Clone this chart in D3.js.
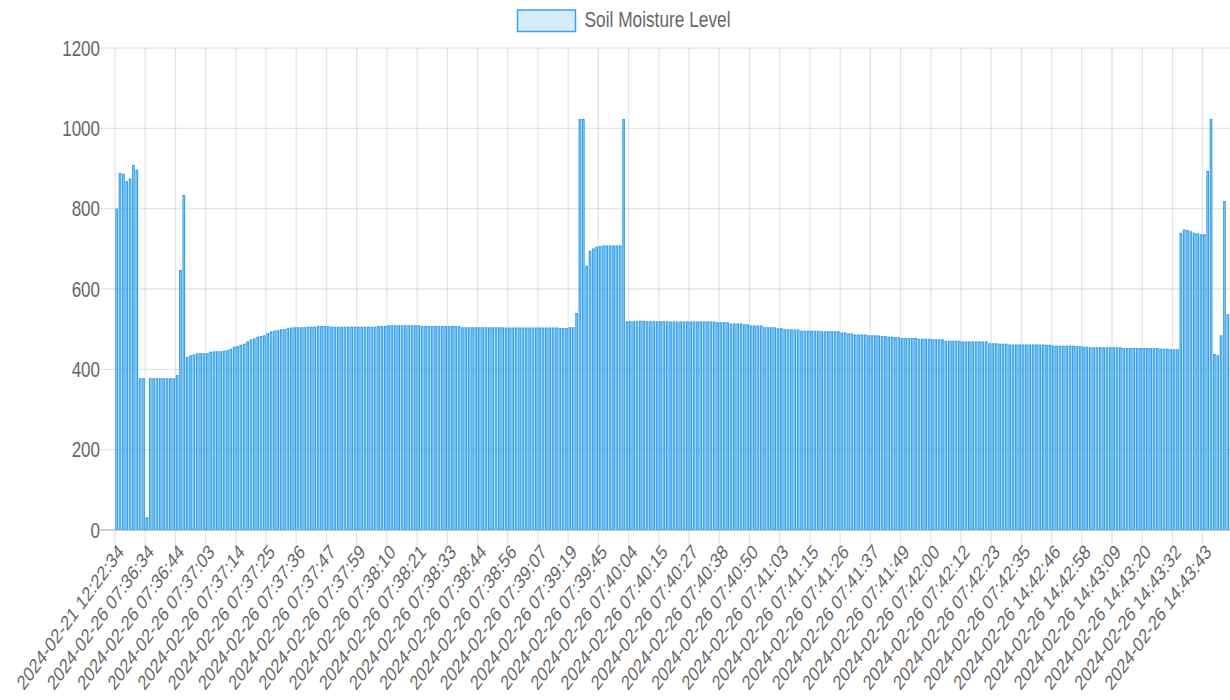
<!DOCTYPE html>
<html>
<head>
<meta charset="utf-8">
<script src="https://cdn.jsdelivr.net/npm/d3@7"></script>
<style>
  html, body { margin: 0; padding: 0; background: #fff; }
  svg { display: block; font-family: 'Liberation Sans', Arial, Helvetica, sans-serif; }
</style>
</head>
<body>
<svg width="1230" height="700"></svg>
<script>
const seriesName = 'Soil Moisture Level'

// labels that are shown on the x axis (every 9th reading)
const tickLabels = [
  '2024-02-21 12:22:34', '2024-02-26 07:36:34', '2024-02-26 07:36:44', '2024-02-26 07:37:03',
  '2024-02-26 07:37:14', '2024-02-26 07:37:25', '2024-02-26 07:37:36', '2024-02-26 07:37:47',
  '2024-02-26 07:37:59', '2024-02-26 07:38:10', '2024-02-26 07:38:21', '2024-02-26 07:38:33',
  '2024-02-26 07:38:44', '2024-02-26 07:38:56', '2024-02-26 07:39:07', '2024-02-26 07:39:19',
  '2024-02-26 07:39:45', '2024-02-26 07:40:04', '2024-02-26 07:40:15', '2024-02-26 07:40:27',
  '2024-02-26 07:40:38', '2024-02-26 07:40:50', '2024-02-26 07:41:03', '2024-02-26 07:41:15',
  '2024-02-26 07:41:26', '2024-02-26 07:41:37', '2024-02-26 07:41:49', '2024-02-26 07:42:00',
  '2024-02-26 07:42:12', '2024-02-26 07:42:23', '2024-02-26 07:42:35', '2024-02-26 14:42:46',
  '2024-02-26 14:42:58', '2024-02-26 14:43:09', '2024-02-26 14:43:20', '2024-02-26 14:43:32',
  '2024-02-26 14:43:43'
]
const tickEvery = 9

// one reading per bar
const moisture = [
  800, 889, 887, 869, 875, 909, 897, 378, 378, 32,
  378, 378, 378, 378, 378, 378, 378, 378, 386, 647, 834,
  431, 435, 437, 440, 440, 440, 440, 444, 445, 445,
  445, 447, 448, 451, 456, 458, 461, 464, 469, 474,
  477, 481, 483, 485, 490, 494, 496, 498, 500, 500,
  502, 504, 505, 505, 505, 505, 506, 506, 506, 508,
  508, 508, 508,
  506, 506, 506, 506, 506, 506, 506, 506, 506, 506, 506, 506, 506, 506,
  508, 508, 508,
  510, 510, 510, 510, 510, 510, 510, 510, 510, 510,
  508, 508, 508, 508, 508, 508, 508, 508, 508, 508, 508, 508,
  505, 505, 505, 505, 505, 505, 505, 505, 505, 505, 505, 505, 505,
  504, 504, 504, 504, 504, 504, 504, 504, 504, 504, 504, 504, 504, 504, 504, 504,
  503, 503, 503, 505, 505,
  540, 1023, 1023, 658, 695, 701, 705, 707, 708, 708, 708, 708, 708, 708, 1023,
  520, 520, 520, 520, 521, 521, 520, 520, 520, 520, 520, 520, 520,
  519, 519, 519, 519, 519, 519, 519, 519, 519, 519, 519, 519, 519, 519,
  517, 517, 517, 517, 514, 514, 514, 514, 512, 512,
  509, 509, 509, 509, 505, 505, 505, 505, 502, 502,
  500, 500, 499, 499, 499,
  496, 496, 496, 496, 496, 496,
  495, 495, 495, 495, 495, 495,
  492, 492, 489, 489, 487, 487, 487, 487, 485, 485, 485, 484,
  483, 483, 481, 481, 480, 480, 478, 478, 478, 478, 478,
  476, 476, 476, 476, 475, 475, 475, 475,
  471, 471, 471, 471, 471,
  469, 469, 469, 469, 469, 469, 469, 469,
  465, 465, 465, 464, 464, 464,
  462, 462, 462, 462, 462, 462, 462, 462, 462, 462, 462,
  461, 461,
  459, 459, 459, 459, 459, 459, 459,
  458, 458, 456, 456,
  455, 455, 455, 455, 455, 455, 455, 455, 455, 455,
  453, 453, 453, 453, 453, 453, 453, 453, 453, 453, 453,
  451, 451, 451, 450, 450, 450,
  740, 748, 747, 744, 740, 738, 736, 736, 894, 1023, 438, 435, 485, 819, 537
]

const yTicks = [0, 200, 400, 600, 800, 1000, 1200]

const svg = d3.select('svg')
const plotLeft = 115, plotRight = 1229.5, plotTop = 48, plotBottom = 530
const stretch = 1.3   // the reference text is taller than it is wide
const blue = 'rgb(54, 162, 235)'
const textColor = '#666'

const x = d3.scaleBand()
  .domain(d3.range(moisture.length))
  .range([plotLeft, plotRight])
  .paddingInner(0.2)
  .paddingOuter(0.1)

const y = d3.scaleLinear()
  .domain([0, 1200])
  .range([plotBottom, plotTop])

const step = x.step()
const slotLeft = i => x(i) - step * 0.1

// grid
const grid = svg.append('g').attr('class', 'grid')

grid.selectAll('line.h')
  .data(yTicks)
  .enter()
  .append('line')
  .attr('class', 'h')
  .attr('x1', plotLeft - 15)
  .attr('x2', 1230)
  .attr('y1', d => y(d))
  .attr('y2', d => y(d))
  .attr('stroke', d => d === 0 ? 'rgba(0,0,0,0.25)' : 'rgba(0,0,0,0.1)')
  .attr('stroke-width', 1.3)

const tickIdx = tickLabels.map((d, k) => k * tickEvery)

grid.selectAll('line.v')
  .data(tickIdx)
  .enter()
  .append('line')
  .attr('class', 'v')
  .attr('x1', d => slotLeft(d))
  .attr('x2', d => slotLeft(d))
  .attr('y1', plotTop)
  .attr('y2', plotBottom + 15)
  .attr('stroke', 'rgba(0,0,0,0.1)')
  .attr('stroke-width', 1.3)

// bars: light fill plus a solid border on left, right and top
const bw = x.bandwidth()
const b = 1.15, bt = 1.3

const bars = svg.append('g').attr('class', 'bars')
  .selectAll('g')
  .data(moisture)
  .enter()
  .append('g')

bars.append('rect')
  .attr('x', (d, i) => x(i))
  .attr('y', d => y(d))
  .attr('width', bw)
  .attr('height', d => plotBottom - y(d))
  .attr('fill', 'rgba(54,162,235,0.2)')

bars.append('path')
  .attr('fill', blue)
  .attr('fill-rule', 'evenodd')
  .attr('d', (d, i) => {
    const x0 = x(i), y0 = y(d), h = plotBottom - y0
    return `M${x0},${y0}h${bw}v${h}h${-bw}Z` +
      `M${x0 + b},${y0 + bt}v${h - bt}h${bw - 2 * b}v${-(h - bt)}Z`
  })

// y axis labels
svg.append('g')
  .selectAll('text')
  .data(yTicks)
  .enter()
  .append('text')
  .attr('transform', d => `translate(${plotLeft - 15},${y(d)}) scale(1,${stretch})`)
  .attr('text-anchor', 'end')
  .attr('dy', '0.35em')
  .attr('font-size', 17)
  .attr('fill', textColor)
  .text(d => d)

// x axis labels
svg.append('g')
  .selectAll('text')
  .data(tickIdx)
  .enter()
  .append('text')
  .attr('transform', d => `translate(${x(d) + bw / 2 + 4},${plotBottom + 18}) scale(1,${stretch}) rotate(-46.5)`)
  .attr('text-anchor', 'end')
  .attr('dy', '0.35em')
  .attr('font-size', 15.8)
  .attr('fill', textColor)
  .text((d, k) => tickLabels[k])

// legend
const legend = svg.append('g')
legend.append('rect')
  .attr('x', 517.5)
  .attr('y', 10)
  .attr('width', 58)
  .attr('height', 21.5)
  .attr('fill', 'rgba(54,162,235,0.2)')
  .attr('stroke', blue)
  .attr('stroke-width', 1.5)
legend.append('text')
  .attr('transform', `translate(584.5,26.7) scale(1,${stretch})`)
  .attr('font-size', 17.3)
  .attr('fill', textColor)
  .text(seriesName)
</script>
</body>
</html>
